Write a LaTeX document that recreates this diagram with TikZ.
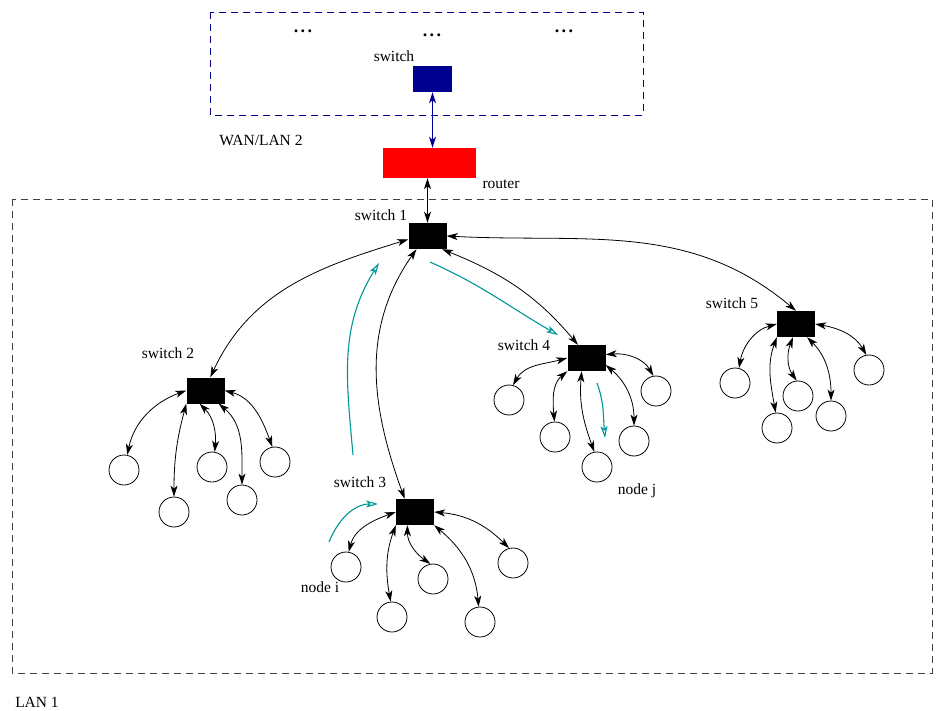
\documentclass[tikz,border=0pt]{standalone}
\usepackage{fontspec}
\setmainfont{Liberation Serif}
\usetikzlibrary{arrows.meta}
\definecolor{wanblue}{RGB}{0,0,144}
\definecolor{flowteal}{RGB}{0,150,150}
\newcommand{\mydots}{.\kern2.5pt.\kern2.5pt.}
\begin{document}
\begin{tikzpicture}[x=1pt,y=1pt,
  >={Stealth[length=11pt,width=7pt,inset=3pt]},
  conn/.style={<->,line width=0.8pt},
  sw/.style={fill=black, minimum width=38pt, minimum height=26pt, inner sep=0pt},
  host/.style={circle, draw, line width=0.8pt, minimum size=30pt, inner sep=0pt},
  lbl/.style={font=\fontsize{15.5}{18}\selectfont, inner sep=0pt},
  dots/.style={font=\fontsize{18}{20}\selectfont\bfseries, inner sep=0pt},
  flow/.style={-{Stealth[open,length=12pt,width=7pt,inset=3pt]}, draw=flowteal, line width=1.1pt},
  frame/.style={dash pattern=on 7pt off 5pt, line width=0.8pt},
]
\useasboundingbox (0,0) rectangle (936,-711);

% frames
\draw[frame, draw=wanblue] (210,-12) rectangle (643,-115);
\draw[frame, draw=black!75] (12,-199) rectangle (932,-673);

% top network
\node[dots] (d1) at (303,-31) {\mydots};
\node[dots] (d2) at (432,-35) {\mydots};
\node[dots] (d3) at (564,-31) {\mydots};
\node[fill=wanblue, minimum width=39pt, minimum height=26pt, inner sep=0pt] (bsw) at (432.5,-79) {};
\node[fill=red, minimum width=93pt, minimum height=30pt, inner sep=0pt] (router) at (429.5,-163) {};

% switches
\node[sw] (s1) at (427.5,-236) {};
\node[sw] (s2) at (205.5,-390.5) {};
\node[sw] (s3) at (415,-512) {};
\node[sw] (s4) at (586.5,-358) {};
\node[sw] (s5) at (796,-324) {};

% hosts
\node[host] (c21) at (124,-470) {};
\node[host] (c22) at (174,-512) {};
\node[host] (c23) at (212,-467) {};
\node[host] (c24) at (242,-500) {};
\node[host] (c25) at (275,-462) {};

\node[host] (c31) at (346,-567) {};
\node[host] (c32) at (392,-617) {};
\node[host] (c33) at (433,-579) {};
\node[host] (c34) at (480,-622) {};
\node[host] (c35) at (513,-563) {};

\node[host] (c41) at (509,-400) {};
\node[host] (c42) at (555,-437) {};
\node[host] (c43) at (597,-467) {};
\node[host] (c44) at (634,-441) {};
\node[host] (c45) at (656,-391) {};

\node[host] (c51) at (735,-383) {};
\node[host] (c52) at (777,-428) {};
\node[host] (c53) at (798,-396) {};
\node[host] (c54) at (831,-416) {};
\node[host] (c55) at (869,-370) {};

% labels
\node[lbl] (lsw) at (394,-56) {switch};
\node[lbl] (lwan) at (261,-140) {WAN/LAN 2};
\node[lbl] (lrouter) at (501,-184) {router};
\node[lbl] (l1) at (381,-215) {switch 1};
\node[lbl] (l2) at (168,-353) {switch 2};
\node[lbl] (l3) at (360,-482) {switch 3};
\node[lbl] (l4) at (524,-345) {switch 4};
\node[lbl] (l5) at (732,-303) {switch 5};
\node[lbl] (li) at (320,-587) {node i};
\node[lbl] (lj) at (637,-491) {node j};
\node[lbl] (llan) at (37,-702) {LAN 1};

% uplinks
\draw[<->, draw=wanblue, line width=1.3pt]
  (bsw.south) -- (bsw.south |- router.north);
\draw[conn, line width=1.1pt] (s1.north |- router.south) -- (s1.north);

% switch 1 links
\draw[conn] (s1.190) to[out=197,in=65] (s2.70);
\draw[conn] (s1.230) to[out=235,in=110] (s3.128);
\draw[conn] (s1.-42) to[out=-22,in=130] (s4.123);
\draw[conn] (s1.east) to[out=-3,in=140] (s5.north);

% switch 2 hosts
\draw[conn] (s2.west) to[out=200,in=78] (c21.78);
\draw[conn] (s2.south west) to[out=255,in=90] (c22.north);
\draw[conn] (s2.246) to[out=-45,in=85] (c23.80);
\draw[conn] (s2.-45) to[out=-40,in=90] (c24.north);
\draw[conn] (s2.east) to[out=-15,in=110] (c25.100);

% switch 3 hosts
\draw[conn] (s3.west) to[out=200,in=75] (c31.80);
\draw[conn] (s3.south west) to[out=250,in=100] (c32.95);
\draw[conn] (s3.240) to[out=-90,in=145] (c33.100);
\draw[conn] (s3.south east) to[out=-40,in=95] (c34.95);
\draw[conn] (s3.east) to[out=-5,in=135] (c35.105);

% switch 4 hosts
\draw[conn] (s4.west) to[out=195,in=60] (c41.75);
\draw[conn] (s4.south west) to[out=220,in=95] (c42.92);
\draw[conn] (s4.250) to[out=-95,in=110] (c43.100);
\draw[conn] (s4.-20) to[out=-40,in=90] (c44.north);
\draw[conn] (s4.10) to[out=5,in=120] (c45.100);

% switch 5 hosts
\draw[conn] (s5.west) to[out=195,in=80] (c51.75);
\draw[conn] (s5.south west) to[out=250,in=100] (c52.95);
\draw[conn] (s5.257) to[out=249,in=125] (c53.95);
\draw[conn] (s5.-50) to[out=-45,in=90] (c54.north);
\draw[conn] (s5.east) to[out=-10,in=120] (c55.100);

% flow arrows
\coordinate (t1s) at (353,-455); \coordinate (t1e) at (379,-263);
\coordinate (t2s) at (430,-262); \coordinate (t2e) at (558,-335);
\coordinate (t3s) at (597,-383); \coordinate (t3e) at (605,-438);
\coordinate (t4s) at (329,-542); \coordinate (t4e) at (378,-504);
\draw[flow] (t1s) to[out=95,in=238] (t1e);
\draw[flow] (t2s) to[out=-24,in=150] (t2e);
\draw[flow] (t3s) to[out=-70,in=95] (t3e);
\draw[flow] (t4s) to[out=68,in=180] (t4e);
\end{tikzpicture}
\end{document}
